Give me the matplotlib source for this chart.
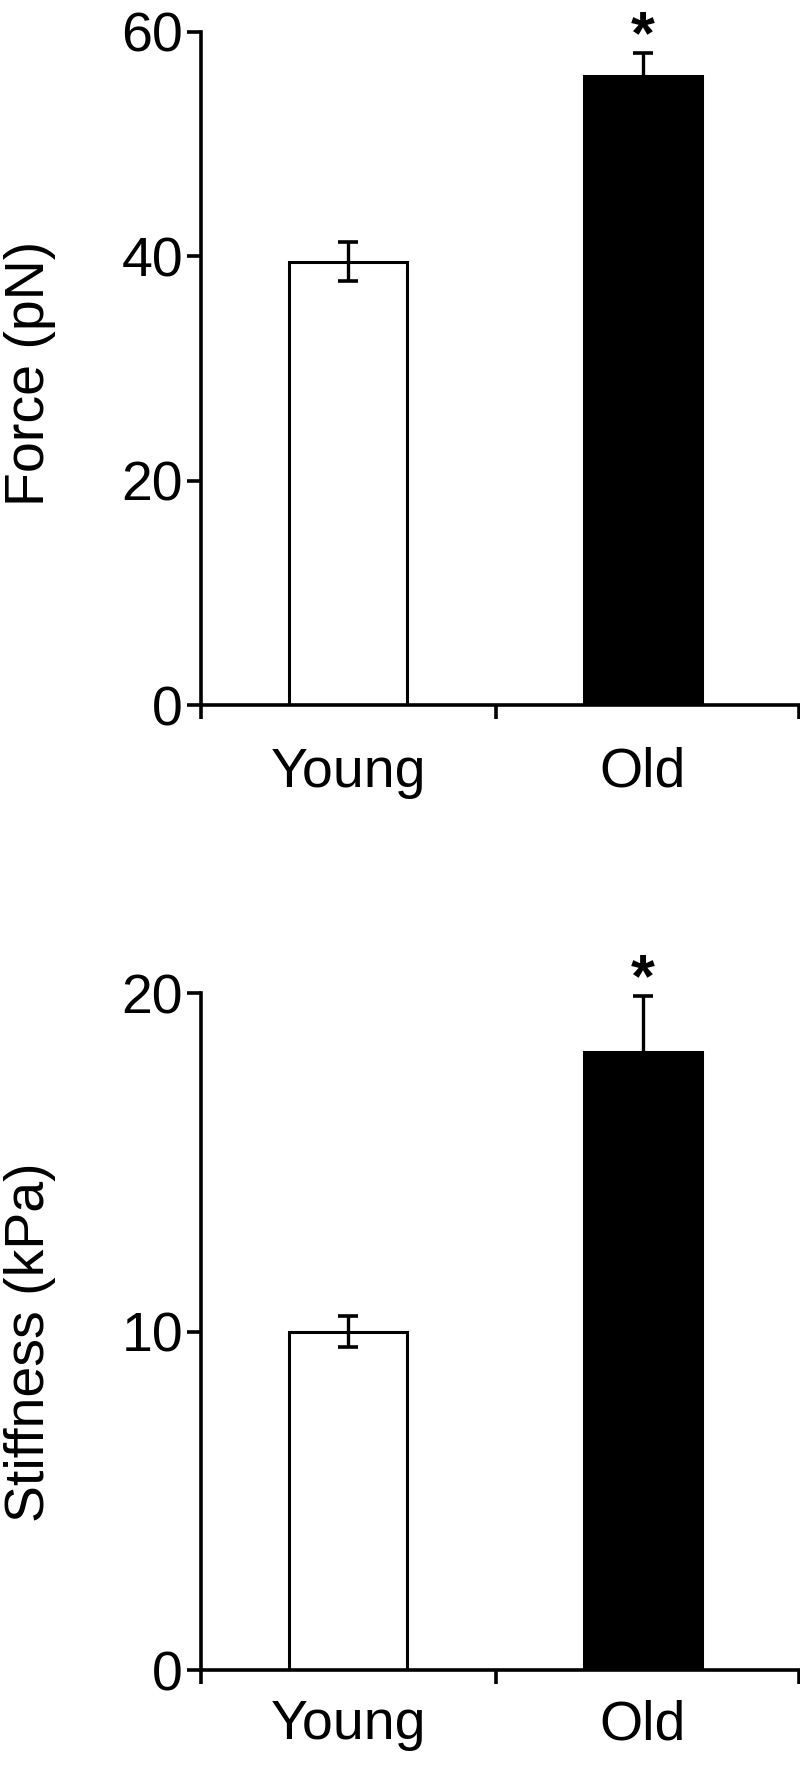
import matplotlib
matplotlib.use("Agg")
import matplotlib.pyplot as plt

# Données
groups = ["Young", "Old"]
force_mean = [39.5, 56.0]
force_err = [1.75, 2.1]
stiff_mean = [10.0, 18.25]
stiff_err = [0.47, 1.65]
bar_colors = ["white", "black"]

plt.rcParams["font.family"] = ["Liberation Sans", "DejaVu Sans"]
FS = 40

fig = plt.figure(figsize=(8, 17.69), dpi=100)
ax1 = fig.add_axes([201/800, 1 - 705/1769, 598/800, (705 - 31.6)/1769])
ax2 = fig.add_axes([201/800, 1 - 1670/1769, 598/800, (1670 - 993)/1769])


def draw_panel(ax, means, errs, ylim, yticks, ylabel, label_y, xpad):
    x = range(len(groups))
    ax.bar(x, means, width=0.4, color=bar_colors, edgecolor="black",
           linewidth=2.2, zorder=1)
    ax.errorbar(x, means, yerr=errs, fmt="none", ecolor="black",
                elinewidth=2.4, capsize=7, capthick=2.6, zorder=2)
    # étoile au-dessus du groupe Old
    ax.text(1, means[1] + errs[1], "*", ha="center", va="baseline",
            fontsize=44, fontweight="bold", clip_on=False)
    ax.set_xlim(-0.5, 1.53)
    ax.set_ylim(*ylim)
    ax.set_yticks(yticks)
    ax.set_xticks(list(x))
    ax.set_xticklabels(groups)
    ax.set_xticks([-0.5, 0.5, 1.53], minor=True)
    ax.tick_params(axis="x", which="major", length=0, pad=xpad, labelsize=FS)
    ax.tick_params(axis="x", which="minor", length=10, width=2.6,
                   direction="out")
    ax.tick_params(axis="y", length=10, width=2.6, pad=3, labelsize=FS)
    for side in ["top", "right"]:
        ax.spines[side].set_visible(False)
    for side in ["left", "bottom"]:
        ax.spines[side].set_linewidth(2.6)
    fig.text(30/800, label_y, ylabel, rotation=90, ha="center",
             va="center", fontsize=FS)


draw_panel(ax1, force_mean, force_err, (0, 60), [0, 20, 40, 60],
           "Force (pN)", 0.789, 30)
draw_panel(ax2, stiff_mean, stiff_err, (0, 20), [0, 10, 20],
           "Stiffness (kPa)", 0.241, 21)

fig.savefig("out.png", dpi=100)
